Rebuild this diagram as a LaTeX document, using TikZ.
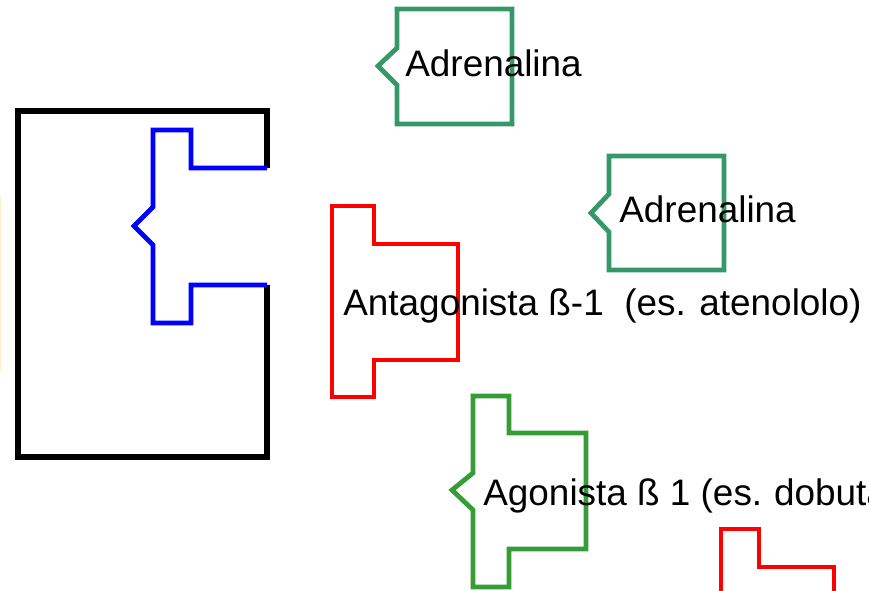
\documentclass[tikz,border=0pt]{standalone}
\usepackage{xcolor}
\usepackage{tikz}
\usepackage{fontspec}
\setmainfont{Liberation Sans}
\definecolor{adrgreen}{RGB}{54, 152, 104}
\definecolor{agogreen}{RGB}{54, 156, 54}
\definecolor{paleyellow}{RGB}{255, 240, 200}

\begin{document}
\begin{tikzpicture}[
    x=0.02cm, y=-0.02cm,
    recettore/.style={draw=black, line width=3pt, line join=miter},
    sito/.style={draw=blue, line width=2.7pt},
    antagonista/.style={draw=red, line width=2.7pt},
    adrenalina/.style={draw=adrgreen, line width=2.7pt},
    agonista/.style={draw=agogreen, line width=2.7pt},
    etichetta/.style={anchor=base west, inner sep=0pt, font=\fontsize{21pt}{25pt}\selectfont}
]
    \clip (0,0) rectangle (869,591);
    \useasboundingbox (0,0) rectangle (869,591);

    % Bordo a sinistra
    \draw[paleyellow, line width=0.6pt] (0.5,196) -- (0.5,371);

    % Recettore
    \draw[recettore] (267,168) -- (267,111) -- (18,111) -- (18,457) -- (267,457) -- (267,285);
    \draw[sito] (267,168) -- (191,168) -- (191,130) -- (153,130) -- (153,207)
        -- (134,226) -- (153,245) -- (153,323) -- (191,323) -- (191,285) -- (267,285);

    % Adrenalina
    \draw[adrenalina] (397,48) -- (397,9) -- (512,9) -- (512,124) -- (397,124) -- (397,85)
        -- (378,66) -- cycle;
    \node[etichetta] (adr1) at (405,77) {Adrenalina};

    \draw[adrenalina] (609,194) -- (609,156) -- (724,156) -- (724,270) -- (609,270) -- (609,232)
        -- (591,213) -- cycle;
    \node[etichetta] (adr2) at (619,223) {Adrenalina};

    % Antagonista
    \draw[antagonista] (332,206) -- (374,206) -- (374,244) -- (458,244) -- (458,360)
        -- (374,360) -- (374,397) -- (332,397) -- cycle;
    \node[etichetta] (antag) at (343,316) {Antagonista ß-1\ \ (es. atenololo)};

    % Agonista
    \draw[agonista] (473,473) -- (473,396) -- (509,396) -- (509,433) -- (586,433) -- (586,549)
        -- (509,549) -- (509,587) -- (473,587) -- (473,510) -- (452,490) -- cycle;
    \node[etichetta] (agon) at (483,505) {Agonista ß 1 (es.\hspace{-1pt} dobutamina)};

    % Antagonista (in basso)
    \draw[antagonista] (721,600) -- (721,529) -- (759,529) -- (759,567) -- (834,567) -- (834,600);
\end{tikzpicture}
\end{document}
